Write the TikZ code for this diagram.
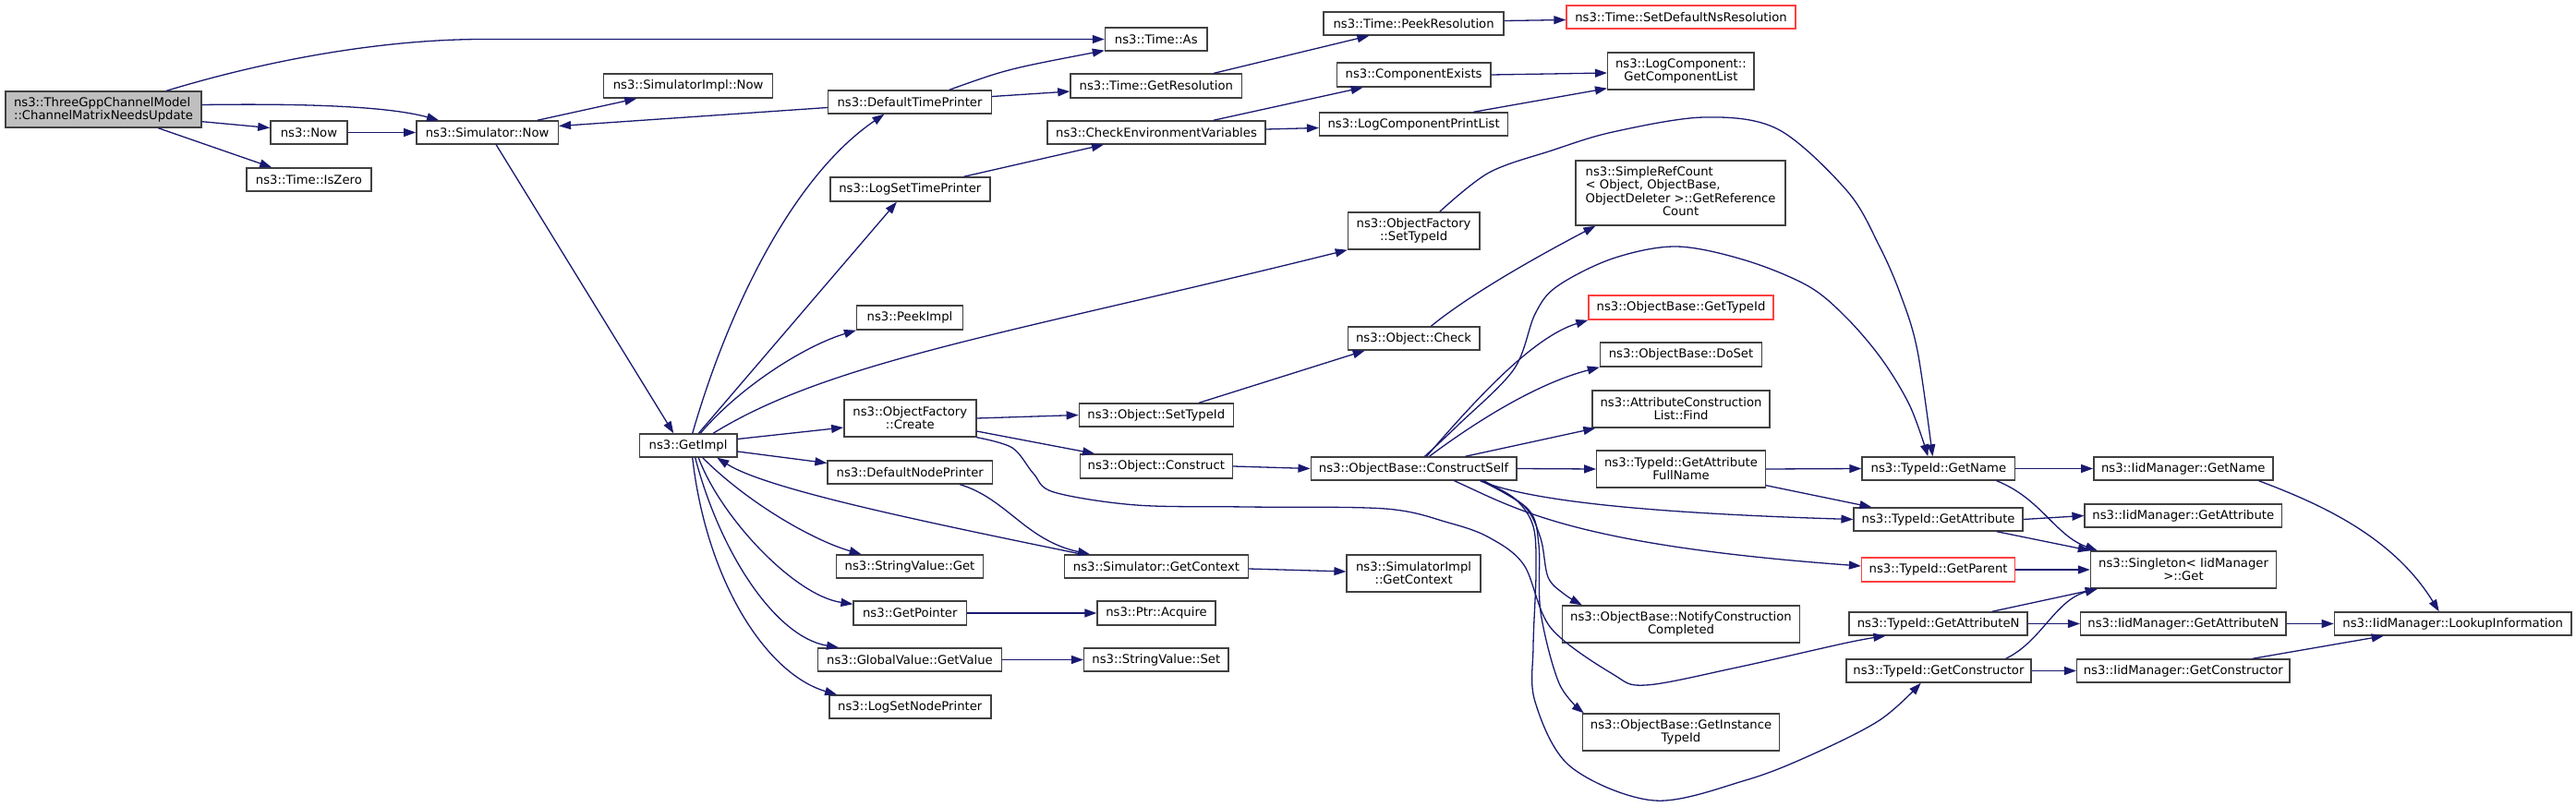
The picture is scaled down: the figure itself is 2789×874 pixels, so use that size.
\documentclass[tikz,border=0pt]{standalone}
\usepackage{fontspec}
\setmainfont{DejaVu Sans}
\usetikzlibrary{arrows.meta}
\definecolor{edgeblue}{HTML}{191970}
\definecolor{boxline}{HTML}{404040}
\definecolor{rootfill}{HTML}{BFBFBF}
\definecolor{truncred}{HTML}{FF4040}
\tikzset{
  fn/.style={draw=boxline, fill=white, line width=1.4pt, inner sep=0pt, minimum height=25pt,
    align=center, font=\fontsize{13.2}{14}\selectfont},
  fntwo/.style={fn, minimum height=40pt},
  trunc/.style={draw=truncred},
  call/.style={edgeblue, line width=1.3pt, -{Triangle[length=13pt,width=9pt]}}
}
\begin{document}
\begin{tikzpicture}[x=1pt,y=-1pt]
\fill[white] (0,0) rectangle (2789,874);
\useasboundingbox (0,0) rectangle (2789,874);

\node[fn, fill=rootfill, align=left, minimum width=212pt, minimum height=39pt] (root) at (112,118.5) {ns3::ThreeGppChannelModel\\::ChannelMatrixNeedsUpdate};
\node[fn, minimum width=83pt] (now) at (334.4,143.5) {ns3::Now};
\node[fn, minimum width=153.5pt] (simnow) at (527.6,143.5) {ns3::Simulator::Now};
\node[fn, minimum width=135pt] (iszero) at (334.4,194.5) {ns3::Time::IsZero};
\node[fn, minimum width=183pt, minimum height=26pt] (simimplnow) at (745.1,93) {ns3::SimulatorImpl::Now};
\node[fn, minimum width=105.4pt] (getimpl) at (745.1,482.5) {ns3::GetImpl};

\node[fn, minimum width=177pt] (dtp) at (985,110.5) {ns3::DefaultTimePrinter};
\node[fn, minimum width=173pt, minimum height=26pt] (lstp) at (985.3,205) {ns3::LogSetTimePrinter};
\node[fn, minimum width=114.7pt, minimum height=26pt] (peekimpl) at (985,344) {ns3::PeekImpl};
\node[fntwo, minimum width=143pt] (ofcreate) at (985.3,453) {ns3::ObjectFactory\\::Create};
\node[fn, minimum width=178.5pt] (dnp) at (985.3,511.5) {ns3::DefaultNodePrinter};
\node[fn, minimum width=159.4pt] (svget) at (985,613.5) {ns3::StringValue::Get};
\node[fn, minimum width=122.3pt, minimum height=26pt] (getptr) at (985.3,664) {ns3::GetPointer};
\node[fn, minimum width=198.6pt] (gvgetval) at (985,714.5) {ns3::GlobalValue::GetValue};
\node[fn, minimum width=175pt] (lsnp) at (985.3,765.5) {ns3::LogSetNodePrinter};

\node[fn, minimum width=110.7pt] (timeas) at (1251.8,42.5) {ns3::Time::As};
\node[fn, minimum width=185.7pt, minimum height=26pt] (getres) at (1251.8,93) {ns3::Time::GetResolution};
\node[fn, minimum width=236pt] (cev) at (1252,143.5) {ns3::CheckEnvironmentVariables};
\node[fn, minimum width=167pt] (osettid) at (1251.8,449.5) {ns3::Object::SetTypeId};
\node[fn, minimum width=165pt, minimum height=26pt] (oconstruct) at (1251.8,505) {ns3::Object::Construct};
\node[fn, minimum width=198.6pt] (simgetctx) at (1252,613.5) {ns3::Simulator::GetContext};
\node[fn, minimum width=128pt, minimum height=26pt] (ptracq) at (1252,664) {ns3::Ptr::Acquire};
\node[fn, minimum width=156.3pt] (svset) at (1251.8,714.5) {ns3::StringValue::Set};

\node[fn, minimum width=195pt] (peekres) at (1530.6,25.5) {ns3::Time::PeekResolution};
\node[fn, minimum width=166.5pt, minimum height=26pt] (compexists) at (1530.6,81) {ns3::ComponentExists};
\node[fn, minimum width=204pt] (lcpl) at (1530.6,134.5) {ns3::LogComponentPrintList};
\node[fntwo, minimum width=142.4pt] (ofsettid) at (1530.6,250) {ns3::ObjectFactory\\::SetTypeId};
\node[fn, minimum width=142.4pt] (ocheck) at (1530.6,366.5) {ns3::Object::Check};
\node[fn, minimum width=222.8pt] (cself) at (1530.6,507.5) {ns3::ObjectBase::ConstructSelf};
\node[fntwo, minimum width=145pt] (simimplctx) at (1530.6,621) {ns3::SimulatorImpl\\::GetContext};

\node[fn, trunc, minimum width=248pt] (setdef) at (1820,18.5) {ns3::Time::SetDefaultNsResolution};
\node[fntwo, minimum width=158.5pt] (getcomplist) at (1819.9,77) {ns3::LogComponent::\\GetComponentList};
\node[fn, minimum width=227pt, minimum height=70pt] (simpleref) at (1819.6,209) {\begin{tabular}{@{}l@{}}ns3::SimpleRefCount\\< Object, ObjectBase,\\\multicolumn{1}{@{}c@{}}{ObjectDeleter >::GetReference}\\\multicolumn{1}{@{}c@{}}{Count}\end{tabular}};
\node[fn, trunc, minimum width=200pt, minimum height=26pt] (obgettid) at (1820,333) {ns3::ObjectBase::GetTypeId};
\node[fn, minimum width=175pt, minimum height=26pt] (doset) at (1820,384) {ns3::ObjectBase::DoSet};
\node[fntwo, minimum width=192pt] (acfind) at (1820,443) {ns3::AttributeConstruction\\List::Find};
\node[fntwo, minimum width=182.5pt] (getattrfn) at (1820,508) {ns3::TypeId::GetAttribute\\FullName};
\node[fntwo, minimum width=257pt] (notifycc) at (1820,676) {ns3::ObjectBase::NotifyConstruction\\Completed};
\node[fntwo, minimum width=213pt] (getinsttid) at (1820,793) {ns3::ObjectBase::GetInstance\\TypeId};

\node[fn, minimum width=165.6pt] (tgetname) at (2098.9,507.5) {ns3::TypeId::GetName};
\node[fn, minimum width=183pt] (tgetattr) at (2098.6,562.5) {ns3::TypeId::GetAttribute};
\node[fn, trunc, minimum width=166pt, minimum height=26pt] (tgetparent) at (2098.6,617) {ns3::TypeId::GetParent};
\node[fn, minimum width=193pt] (tgetattrn) at (2098.6,675.5) {ns3::TypeId::GetAttributeN};
\node[fn, minimum width=200pt] (tgetctor) at (2098.9,726.5) {ns3::TypeId::GetConstructor};

\node[fn, minimum width=194pt] (igetname) at (2363.8,507.5) {ns3::IidManager::GetName};
\node[fn, minimum width=213.4pt] (igetattr) at (2363.8,558.5) {ns3::IidManager::GetAttribute};
\node[fntwo, minimum width=201pt] (singleton) at (2364,617) {ns3::Singleton< IidManager\\ >::Get};
\node[fn, minimum width=222.4pt] (igetattrn) at (2363.8,675.5) {ns3::IidManager::GetAttributeN};
\node[fn, minimum width=230.4pt] (igetctor) at (2363.8,726.5) {ns3::IidManager::GetConstructor};
\node[fn, minimum width=256.6pt] (lookup) at (2655.7,675.5) {ns3::IidManager::LookupInformation};

\draw[call] ([xshift=175pt]root.north west) .. controls (300,62) and (420,43) .. (520,42.5) -- (timeas.west);
\draw[call] ([yshift=5pt]root.east) .. controls (330,112) and (420,115) .. ([xshift=25pt]simnow.north west);
\draw[call] ([yshift=7pt]root.south east) -- ([yshift=5pt]now.west);
\draw[call] ([xshift=166pt]root.south west) -- ([xshift=28pt]iszero.north west);
\draw[call] (now.east) -- (simnow.west);
\draw[call] ([xshift=131.6pt]simnow.north west) -- ([xshift=36.4pt]simimplnow.south west);
\draw[call] ([xshift=87pt]simnow.south west) -- ([xshift=37.6pt]getimpl.north west);
\draw[call] ([yshift=-6pt]dtp.west) -- ([yshift=7pt]simnow.east);
\draw[call] ([xshift=132pt]dtp.north west) .. controls (1090,75) .. ([yshift=1pt]timeas.south west);
\draw[call] ([yshift=6pt]dtp.east) -- ([yshift=-6pt]getres.west);
\draw[call] ([xshift=-31pt]getres.north east) -- ([xshift=50pt]peekres.south west);
\draw[call] ([yshift=3pt]peekres.east) -- ([yshift=-3pt]setdef.west);
\draw[call] ([xshift=-29pt]lstp.north east) -- ([xshift=61.6pt]cev.south west);
\draw[call] ([xshift=-57pt]cev.north east) -- ([xshift=29pt]compexists.south west);
\draw[call] ([yshift=3.5pt]cev.east) -- ([yshift=-4pt]lcpl.west);
\draw[call] (compexists.east) -- ([yshift=-2pt]getcomplist.west);
\draw[call] ([xshift=-38pt]lcpl.north east) -- ([yshift=2pt]getcomplist.south west);

\draw[call] ([xshift=58pt]getimpl.north west) .. controls (790,330) and (860,190) .. ([xshift=61.6pt]dtp.south west);
\draw[call] ([xshift=64.6pt]getimpl.north west) -- ([xshift=72.8pt]lstp.south west);
\draw[call] ([xshift=66.6pt]getimpl.north west) .. controls (800,420) and (870,375) .. (peekimpl.south west);
\draw[call] ([xshift=80.4pt]getimpl.north west) .. controls (900,390) and (1100,360) .. (ofsettid.south west);
\draw[call] ([yshift=7pt]getimpl.east) -- ([yshift=-10pt]ofcreate.west);
\draw[call] ([yshift=-6.5pt]getimpl.east) -- ([yshift=10pt]dnp.west);
\draw[call] ([xshift=69pt]getimpl.south west) .. controls (810,545) and (880,585) .. ([xshift=28pt]svget.north west);
\draw[call] ([xshift=19.6pt]simgetctx.north west) .. controls (1000,565) and (830,530) .. ([xshift=84.6pt]getimpl.south west);
\draw[call] ([xshift=64.6pt]getimpl.south west) .. controls (780,560) and (860,645) .. ([yshift=-4pt]getptr.north west);
\draw[call] ([xshift=61pt]getimpl.south west) .. controls (780,600) and (840,690) .. ([xshift=23pt]gvgetval.north west);
\draw[call] ([xshift=58pt]getimpl.south west) .. controls (765,630) and (830,730) .. ([xshift=9pt]lsnp.north west);

\draw[call] (ofcreate.east) -- (osettid.west);
\draw[call] ([yshift=-14pt]ofcreate.east) -- ([xshift=16.5pt]oconstruct.north west);
\draw[call] plot[smooth, tension=0.55] coordinates {(ofcreate.south east) (1096,485) (1119,513) (1141,533) (1230,547) (1350,549) (1500,551) (1568,566) (1612,582) (1650,612) (1679,680) (1746,730) (1782,742) (1880,723) (2000,696) ([xshift=40pt]tgetattrn.south west)};
\draw[call] ([xshift=-38pt]osettid.north east) -- ([xshift=19pt]ocheck.south west);
\draw[call] (oconstruct.east) -- (cself.west);
\draw[call] ([xshift=90.6pt]ocheck.north west) .. controls (1590,320) and (1660,280) .. ([xshift=22pt]simpleref.south west);
\draw[call] plot[smooth, tension=0.55] coordinates {([xshift=100pt]ofsettid.north west) (1612,187) (1680,163) (1746,143) (1845,127) (1925,140) (2000,207) (2035,267) (2058,320) (2076,380) ([xshift=77pt]tgetname.north west)};

\draw[call] plot[smooth, tension=0.55] coordinates {([xshift=124pt]cself.north west) (1579,460) (1639,400) (1662,340) (1686,310) (1746,280) (1815,267) (1890,282) (1958,310) (2000,345) (2038,390) (2068,440) ([xshift=72pt]tgetname.north west)};
\draw[call] ([xshift=126pt]cself.north west) .. controls (1600,430) and (1660,365) .. (obgettid.south west);
\draw[call] ([xshift=129pt]cself.north west) .. controls (1600,455) and (1665,415) .. (doset.south west);
\draw[call] ([xshift=168pt]cself.north west) -- ([xshift=4pt]acfind.south west);
\draw[call] (cself.east) -- (getattrfn.west);
\draw[call] ([xshift=184pt]cself.south west) .. controls (1650,540) and (1760,555) .. (tgetattr.west);
\draw[call] ([xshift=156pt]cself.south west) .. controls (1640,550) and (1700,590) .. ([yshift=4pt]tgetparent.west);
\draw[call] plot[smooth, tension=0.55] coordinates {([xshift=185pt]cself.south west) (1650,548) (1668,583) (1676,625) (1693,643) ([xshift=22pt]notifycc.north west)};
\draw[call] plot[smooth, tension=0.55] coordinates {([xshift=188pt]cself.south west) (1655,552) (1666,590) (1668,663) (1688,740) ([xshift=2pt]getinsttid.north west)};
\draw[call] plot[smooth, tension=0.55] coordinates {([xshift=186pt]cself.south west) (1640,540) (1660,570) (1663,620) (1660,700) (1662,760) (1700,830) (1791,867) (1890,845) (1960,818) (2035,780) ([xshift=81.5pt]tgetctor.south west)};

\draw[call] (getattrfn.east) -- (tgetname.west);
\draw[call] ([yshift=3pt]getattrfn.south east) -- ([xshift=20pt]tgetattr.north west);
\draw[call] (tgetname.east) -- (igetname.west);
\draw[call] ([xshift=-20.7pt]tgetname.south east) .. controls (2210,540) and (2225,580) .. ([xshift=8pt]singleton.north west);
\draw[call] (tgetattr.east) -- (igetattr.west);
\draw[call] ([xshift=-29pt]tgetattr.south east) -- (singleton.north west);
\draw[call] (tgetparent.east) -- (singleton.west);
\draw[call] ([xshift=-39pt]tgetattrn.north east) -- ([xshift=8pt]singleton.south west);
\draw[call] (tgetattrn.east) -- (igetattrn.west);
\draw[call] ([xshift=-28pt]tgetctor.north east) .. controls (2210,695) and (2225,650) .. ([xshift=8pt]singleton.south west);
\draw[call] (tgetctor.east) -- (igetctor.west);
\draw[call] ([xshift=-16pt]igetname.south east) .. controls (2510,545) and (2590,580) .. ([xshift=114pt]lookup.north west);
\draw[call] (igetattrn.east) -- (lookup.west);
\draw[call] ([xshift=-41pt]igetctor.north east) -- ([xshift=54pt]lookup.south west);

\draw[call] ([xshift=-36pt]dnp.south east) .. controls (1090,540) and (1110,585) .. ([xshift=28pt]simgetctx.north west);
\draw[call] ([yshift=-2.5pt]simgetctx.east) -- ([yshift=2pt]simimplctx.west);
\draw[call] (getptr.east) -- (ptracq.west);
\draw[call] (gvgetval.east) -- (svset.west);
\end{tikzpicture}
\end{document}
